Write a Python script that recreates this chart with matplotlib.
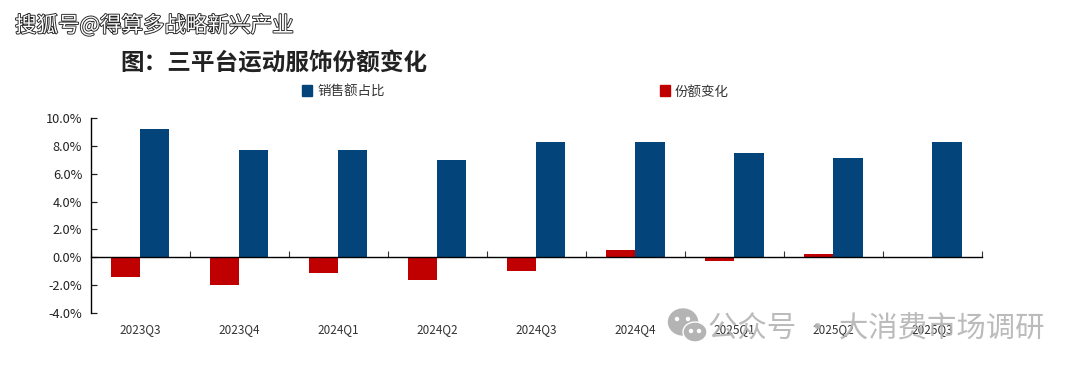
import numpy as np
import matplotlib
matplotlib.use('Agg')
import matplotlib.pyplot as plt
import matplotlib.patheffects as pe
from matplotlib.patches import Ellipse, Rectangle

plt.rcParams['font.family'] = ['Noto Sans CJK SC', 'DejaVu Sans']

categories = ['2023Q3', '2023Q4', '2024Q1', '2024Q2', '2024Q3', '2024Q4', '2025Q1', '2025Q2', '2025Q3']
share = [9.2, 7.7, 7.7, 7.0, 8.25, 8.25, 7.5, 7.15, 8.25]
change = [-1.4, -2.0, -1.1, -1.6, -0.95, 0.5, -0.25, 0.25, np.nan]
y_ticks = [-4, -2, 0, 2, 4, 6, 8, 10]
y_labels = ['-4.0%', '-2.0%', '0.0%', '2.0%', '4.0%', '6.0%', '8.0%', '10.0%']
BLUE = '#03457A'
RED = '#C00000'
W, H = 1080, 369

fig = plt.figure(figsize=(W / 100, H / 100), dpi=100, facecolor='white')
L, R, T, B = 90.5, 982, 118, 313
ax = fig.add_axes([L / W, 1 - B / H, (R - L) / W, (B - T) / H])
x = np.arange(len(categories))
bw = 0.295
ax.bar(x + bw / 2, share, bw, color=BLUE, zorder=2)
ax.bar(x - bw / 2, change, bw, color=RED, zorder=2)
ax.set_xlim(-0.5, len(categories) - 0.5)
ax.set_ylim(-4, 10)
for s in ('top', 'right'):
    ax.spines[s].set_visible(False)
ax.spines['bottom'].set_position(('data', 0))
ax.spines['bottom'].set_zorder(3)
ax.spines['left'].set_linewidth(1.0)
ax.spines['bottom'].set_linewidth(1.0)

ax.set_yticks(y_ticks)
ax.set_yticklabels(y_labels)
ax.tick_params(axis='y', direction='in', length=4, width=0.9, labelsize=9.2, pad=6, colors='#222222')
ax.set_xticks(np.arange(len(categories) + 1) - 0.5)
ax.set_xticklabels([])
ax.tick_params(axis='x', which='major', direction='in', length=4, width=0.8, color='#333333')
ax.set_xticks(x, minor=True)
ax.set_xticklabels(categories, minor=True)
ax.tick_params(axis='x', which='minor', length=0, pad=47.5, labelsize=8.5, colors='#333333')

# title and watermark-like header
fig.text(120 / W, 1 - 63.5 / H, '图：三平台运动服饰份额变化', fontsize=17, fontweight='bold',
         color='#222222', va='center', ha='left')
fig.text(15 / W, 1 - 26 / H, '搜狐号@得算多战略新兴产业', fontsize=15.5, color='white', va='center', ha='left',
         path_effects=[pe.withStroke(linewidth=1.3, foreground='#222222')])

# legend
for lx, col, label in [(302, BLUE, '销售额占比'), (660, RED, '份额变化')]:
    fig.add_artist(Rectangle((lx / W, 1 - 95.5 / H), 10 / W, 10 / H, transform=fig.transFigure, color=col))
    fig.text((lx + 15) / W, 1 - 91.5 / H, label, fontsize=9.7, color='#333333', va='center', ha='left')

# WeChat watermark
wm = '#B4B4B4'
fig.add_artist(Ellipse((683 / W, 1 - 322 / H), 29 / W, 26 / H, transform=fig.transFigure, color=wm, zorder=5))
fig.add_artist(Ellipse((695 / W, 1 - 332 / H), 24 / W, 20 / H, transform=fig.transFigure, color=wm, zorder=5,
                       ec='white', lw=1))
for ex, ey in [(677, 319), (688, 319), (691, 331), (699, 331)]:
    fig.add_artist(Ellipse((ex / W, 1 - ey / H), 3 / W, 3 / H, transform=fig.transFigure, color='white', zorder=6))
fig.text(708 / W, 1 - 329 / H, '公众号 · 大消费市场调研', fontsize=21.2, color='#B4B4B4', alpha=0.9,
         va='center', ha='left', zorder=5)

fig.savefig('out.png', dpi=100, facecolor='white')
